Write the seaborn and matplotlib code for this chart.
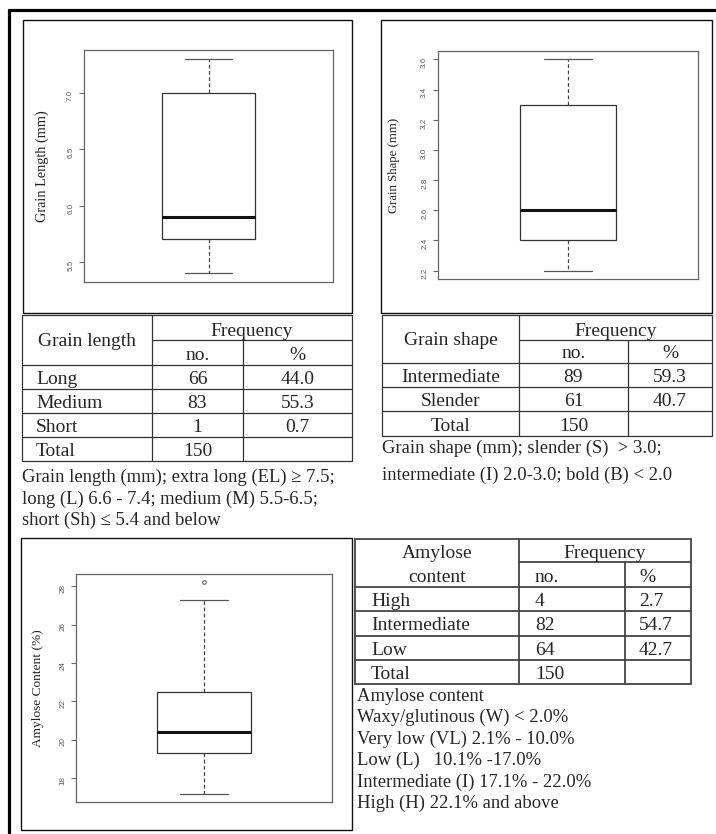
import matplotlib
matplotlib.use("Agg")
import matplotlib.pyplot as plt
from matplotlib.patches import Rectangle
import seaborn as sns

# box plot values (min, q1, median, q3, max)
grain_length_mm = [5.4, 5.7, 5.9, 7.0, 7.3]
grain_shape_mm = [2.2, 2.4, 2.6, 3.3, 3.6]
# 9 points so q1 / median / q3 land on 19.3 / 20.4 / 22.5; 28.2 is the outlier
amylose_pct = [17.2, 19.3, 19.3, 20.4, 20.4, 22.5, 22.5, 27.3, 28.2]

length_ticks = [5.5, 6.0, 6.5, 7.0]
shape_ticks = [2.2, 2.4, 2.6, 2.8, 3.0, 3.2, 3.4, 3.6]
amylose_ticks = [18, 20, 22, 24, 26, 28]

length_classes = ["Long", "Medium", "Short", "Total"]
length_no = ["66", "83", "1", "150"]
length_pc = ["44.0", "55.3", "0.7", ""]

shape_classes = ["Intermediate", "Slender", "Total"]
shape_no = ["89", "61", "150"]
shape_pc = ["59.3", "40.7", ""]

amylose_classes = ["High", "Intermediate", "Low", "Total"]
amylose_no = ["4", "82", "64", "150"]
amylose_pc = ["2.7", "54.7", "42.7", ""]

length_note = ["Grain length (mm); extra long (EL) \u2265 7.5;",
               "long (L) 6.6 - 7.4; medium (M) 5.5-6.5;",
               "short (Sh) \u2264 5.4 and below"]
shape_note = ["Grain shape (mm); slender (S)  > 3.0;",
              "intermediate (I) 2.0-3.0; bold (B) < 2.0"]
amylose_note = ["Amylose content",
                "Waxy/glutinous (W) < 2.0%",
                "Very low (VL) 2.1% - 10.0%",
                "Low (L)   10.1% -17.0%",
                "Intermediate (I) 17.1% - 22.0%",
                "High (H) 22.1% and above"]

sns.set_style("white")
plt.rcParams["font.family"] = ["Liberation Serif", "DejaVu Serif"]

W, H = 716, 834
fig = plt.figure(figsize=(W / 100, H / 100), dpi=100)

cv = fig.add_axes([0, 0, 1, 1])
cv.set_xlim(0, W)
cv.set_ylim(H, 0)
cv.axis("off")

SERIF = "Liberation Serif"
TFS = 14
NFS = 13.4


def px_axes(x0, y0, x1, y1):
    return fig.add_axes([x0 / W, 1 - y1 / H, (x1 - x0) / W, (y1 - y0) / H])


def frame(x0, y0, x1, y1, lw=1.0, ec="#111111"):
    cv.add_patch(Rectangle((x0, y0), x1 - x0, y1 - y0, fill=False, ec=ec, lw=lw))


def r_boxplot(ax, values, ticks, fmt, label, label_x, label_fs, whis=1.6):
    sns.boxplot(y=values, ax=ax, width=0.37, color="white", linecolor="#333333",
                linewidth=0.9, whis=whis, fill=True,
                whiskerprops=dict(linestyle=(0, (3, 2)), color="#444444"),
                capprops=dict(color="#555555"),
                medianprops=dict(linewidth=2.2, color="#111111"),
                flierprops=dict(marker="o", markersize=2.6, markerfacecolor="none",
                                markeredgecolor="#555555", markeredgewidth=0.7))
    lo, hi = min(values), max(values)
    pad = 0.04 * (hi - lo)
    ax.set_ylim(lo - pad, hi + pad)
    ax.set_xlim(-0.5, 0.5)
    ax.set_xticks([])
    ax.set_yticks(ticks)
    ax.set_yticklabels([fmt.format(t) for t in ticks])
    ax.tick_params(axis="y", left=True, length=3.6, width=0.8, color="#666666",
                   labelcolor="#5a5a5a", labelsize=5.8, labelrotation=90, pad=3.5,
                   labelfontfamily="Liberation Sans")
    ax.set_xlabel("")
    ax.set_ylabel(label, fontsize=label_fs, family=SERIF, va="center", color="#222222")
    ax.yaxis.set_label_coords(label_x, 0.5)
    for s in ax.spines.values():
        s.set_color("#666666")
        s.set_linewidth(0.9)


def draw_table(cols, y_top, y_sub, y_head, row_h, head, classes, nos, pcs,
               left1=None, left23=None, lw=0.9, ec="#333333"):
    x0, xa, xb, x1 = cols
    y_bot = y_head + len(classes) * row_h
    frame(x0, y_top, x1, y_bot, lw=lw, ec=ec)
    kw = dict(color=ec, lw=lw, solid_capstyle="butt")
    cv.plot([xa, xa], [y_top, y_bot], **kw)
    cv.plot([xb, xb], [y_sub, y_bot], **kw)
    cv.plot([xa, x1], [y_sub, y_sub], **kw)
    for i in range(len(classes)):
        yy = y_head + i * row_h
        cv.plot([x0, x1], [yy, yy], **kw)
    # header
    cv.text((xa + x1) / 2, y_sub - 4, "Frequency", ha="center", va="baseline", fontsize=TFS)
    if left23 is None:
        cv.text((xa + xb) / 2, y_head - 5, "no.", ha="center", va="baseline", fontsize=TFS)
        cv.text((xb + x1) / 2, y_head - 5, "%", ha="center", va="baseline", fontsize=TFS)
    else:
        cv.text(xa + left23[0], y_head - 5, "no.", ha="left", va="baseline", fontsize=TFS)
        cv.text(xb + left23[1], y_head - 5, "%", ha="left", va="baseline", fontsize=TFS)
    if len(head) == 1:
        cv.text((x0 + xa) / 2, (y_top + y_head) / 2 + 6, head[0], ha="center",
                va="baseline", fontsize=TFS)
    else:
        cv.text((x0 + xa) / 2, y_sub - 4, head[0], ha="center", va="baseline", fontsize=TFS)
        cv.text((x0 + xa) / 2, y_head - 5, head[1], ha="center", va="baseline", fontsize=TFS)
    # body
    for i, (c, n, p) in enumerate(zip(classes, nos, pcs)):
        yb = y_head + (i + 1) * row_h - 5
        if left1 is None:
            cv.text((x0 + xa) / 2, yb, c, ha="center", va="baseline", fontsize=TFS)
        else:
            cv.text(x0 + left1, yb, c, ha="left", va="baseline", fontsize=TFS)
        if left23 is None:
            cv.text((xa + xb) / 2, yb, n, ha="center", va="baseline", fontsize=TFS)
            cv.text((xb + x1) / 2, yb, p, ha="center", va="baseline", fontsize=TFS)
        else:
            cv.text(xa + left23[0], yb, n, ha="left", va="baseline", fontsize=TFS)
            cv.text(xb + left23[1], yb, p, ha="left", va="baseline", fontsize=TFS)


def note(x, baselines, lines):
    for yb, s in zip(baselines, lines):
        cv.text(x, yb, s, ha="left", va="baseline", fontsize=NFS)


# outer page rule
cv.plot([8, W], [10, 10], color="black", lw=2.3, solid_capstyle="butt")
cv.plot([9, 9], [9, H], color="black", lw=2.3, solid_capstyle="butt")

# panel frames
frame(23, 20, 352, 313)
frame(381, 20, 712, 313)
frame(21, 538, 352, 830)

# box plots
ax1 = px_axes(84, 50, 333, 282)
r_boxplot(ax1, grain_length_mm, length_ticks, "{:.1f}", "Grain Length (mm)", -0.168, 10.3)

ax2 = px_axes(438, 51, 698, 279)
r_boxplot(ax2, grain_shape_mm, shape_ticks, "{:.1f}", "Grain Shape (mm)", -0.169, 9.2)

ax3 = px_axes(76, 574, 332, 802)
r_boxplot(ax3, amylose_pct, amylose_ticks, "{:d}", "Amylose Content (%)", -0.15, 9.6)

# tables
draw_table((22, 152, 243, 352), 315, 340, 365, 24, ["Grain length"],
           length_classes, length_no, length_pc, left1=14)
draw_table((382, 519, 628, 712), 315, 340, 363, 24.2, ["Grain shape"],
           shape_classes, shape_no, shape_pc)
draw_table((355, 519, 625, 691), 539, 562, 587, 24.25, ["Amylose", "content"],
           amylose_classes, amylose_no, amylose_pc, left1=16, left23=(16, 14),
           lw=1.3, ec="#444444")

# notes
note(22, [482, 503.5, 525], length_note)
note(382, [453, 480], shape_note)
note(357, [701, 722, 743.5, 765, 787, 807.5], amylose_note)

fig.savefig("out.png", dpi=100, facecolor="white")
